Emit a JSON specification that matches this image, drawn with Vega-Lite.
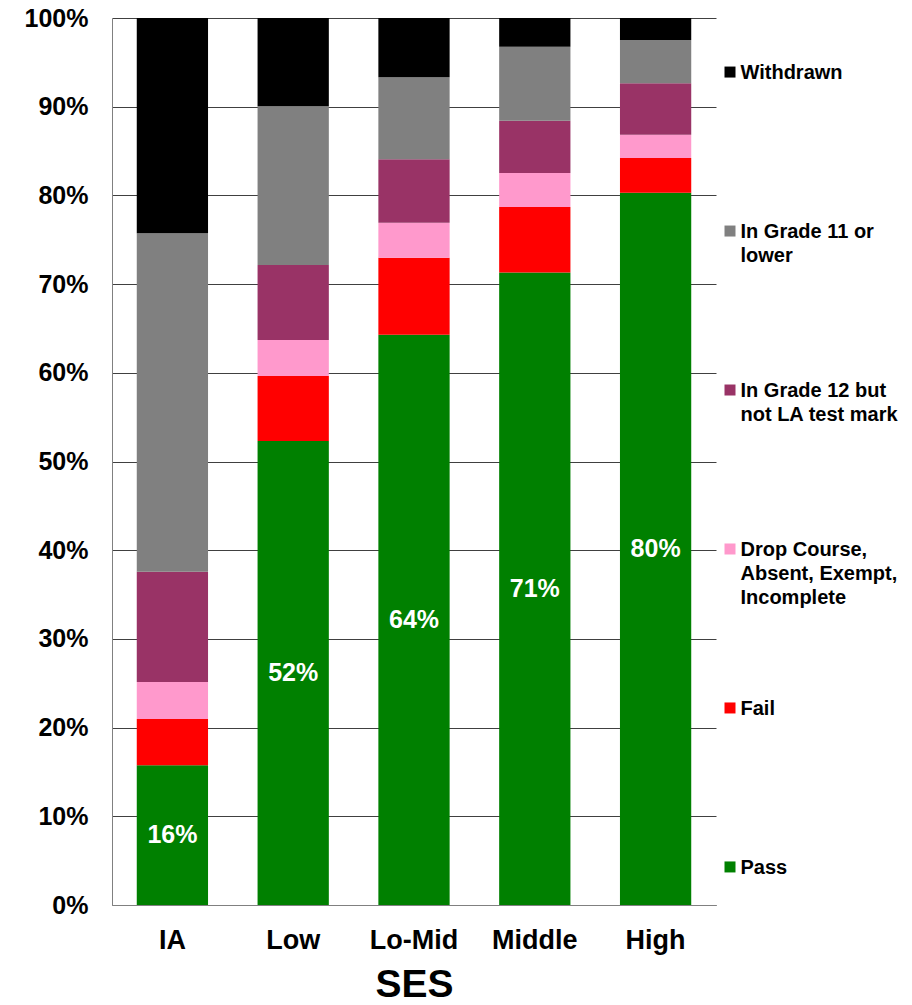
{
  "$schema": "https://vega.github.io/schema/vega-lite/v6.json",
  "padding": {"left": 24, "top": 6, "right": 0, "bottom": 0},
  "config": {
    "view": {"stroke": null},
    "font": "Liberation Sans",
    "concat": {"spacing": 4}
  },
  "datasets": {
    "outcomes": [
      {"ses": "IA", "series": "Pass", "k": 1, "value": 0.1575},
      {"ses": "IA", "series": "Fail", "k": 2, "value": 0.0522},
      {"ses": "IA", "series": "Drop Course, Absent, Exempt, Incomplete", "k": 3, "value": 0.0417},
      {"ses": "IA", "series": "In Grade 12 but not LA test mark", "k": 4, "value": 0.1244},
      {"ses": "IA", "series": "In Grade 11 or lower", "k": 5, "value": 0.3815},
      {"ses": "IA", "series": "Withdrawn", "k": 6, "value": 0.2427},
      {"ses": "Low", "series": "Pass", "k": 1, "value": 0.523},
      {"ses": "Low", "series": "Fail", "k": 2, "value": 0.0733},
      {"ses": "Low", "series": "Drop Course, Absent, Exempt, Incomplete", "k": 3, "value": 0.0406},
      {"ses": "Low", "series": "In Grade 12 but not LA test mark", "k": 4, "value": 0.0845},
      {"ses": "Low", "series": "In Grade 11 or lower", "k": 5, "value": 0.1792},
      {"ses": "Low", "series": "Withdrawn", "k": 6, "value": 0.0994},
      {"ses": "Lo-Mid", "series": "Pass", "k": 1, "value": 0.643},
      {"ses": "Lo-Mid", "series": "Fail", "k": 2, "value": 0.0868},
      {"ses": "Lo-Mid", "series": "Drop Course, Absent, Exempt, Incomplete", "k": 3, "value": 0.0394},
      {"ses": "Lo-Mid", "series": "In Grade 12 but not LA test mark", "k": 4, "value": 0.0715},
      {"ses": "Lo-Mid", "series": "In Grade 11 or lower", "k": 5, "value": 0.0924},
      {"ses": "Lo-Mid", "series": "Withdrawn", "k": 6, "value": 0.0669},
      {"ses": "Middle", "series": "Pass", "k": 1, "value": 0.713},
      {"ses": "Middle", "series": "Fail", "k": 2, "value": 0.0739},
      {"ses": "Middle", "series": "Drop Course, Absent, Exempt, Incomplete", "k": 3, "value": 0.0384},
      {"ses": "Middle", "series": "In Grade 12 but not LA test mark", "k": 4, "value": 0.0589},
      {"ses": "Middle", "series": "In Grade 11 or lower", "k": 5, "value": 0.0834},
      {"ses": "Middle", "series": "Withdrawn", "k": 6, "value": 0.0324},
      {"ses": "High", "series": "Pass", "k": 1, "value": 0.803},
      {"ses": "High", "series": "Fail", "k": 2, "value": 0.0392},
      {"ses": "High", "series": "Drop Course, Absent, Exempt, Incomplete", "k": 3, "value": 0.0262},
      {"ses": "High", "series": "In Grade 12 but not LA test mark", "k": 4, "value": 0.058},
      {"ses": "High", "series": "In Grade 11 or lower", "k": 5, "value": 0.0488},
      {"ses": "High", "series": "Withdrawn", "k": 6, "value": 0.0248}
    ],
    "legendItems": [
      {"series": "Withdrawn", "label": "Withdrawn"},
      {"series": "In Grade 11 or lower", "label": "In Grade 11 or\nlower"},
      {"series": "In Grade 12 but not LA test mark", "label": "In Grade 12 but\nnot LA test mark"},
      {"series": "Drop Course, Absent, Exempt, Incomplete", "label": "Drop Course,\nAbsent, Exempt,\nIncomplete"},
      {"series": "Fail", "label": "Fail"},
      {"series": "Pass", "label": "Pass"}
    ]
  },
  "hconcat": [
    {
      "width": 604,
      "height": 887,
      "data": {"name": "outcomes"},
      "layer": [
        {
          "mark": {"type": "bar"},
          "encoding": {
            "x": {
              "field": "ses", "type": "nominal",
              "sort": ["IA", "Low", "Lo-Mid", "Middle", "High"],
              "scale": {"paddingInner": 0.41, "paddingOuter": 0.205},
              "axis": {
                "title": "SES", "labelAngle": 0, "labelFontSize": 27, "labelFontWeight": "bold",
                "labelColor": "#000000", "ticks": false, "labelPadding": 22,
                "titleFontSize": 39, "titleFontWeight": "bold", "titlePadding": 12,
                "titleColor": "#000000", "domainColor": "#808080"
              }
            },
            "y": {
              "field": "value", "type": "quantitative", "stack": "zero",
              "scale": {"domain": [0, 1]},
              "axis": {
                "title": null, "format": ".0%",
                "values": [0, 0.1, 0.2, 0.3, 0.4, 0.5, 0.6, 0.7, 0.8, 0.9, 1],
                "labelFontSize": 25, "labelFontWeight": "bold", "labelColor": "#000000",
                "ticks": false, "labelPadding": 24, "domainColor": "#808080",
                "grid": true, "gridColor": "#404040", "gridOpacity": 1
              }
            },
            "order": {"field": "k", "type": "quantitative", "sort": "ascending"},
            "color": {
              "field": "series", "type": "nominal",
              "scale": {
                "domain": ["Pass", "Fail", "Drop Course, Absent, Exempt, Incomplete", "In Grade 12 but not LA test mark", "In Grade 11 or lower", "Withdrawn"],
                "range": ["#008000", "#FF0000", "#FF99CC", "#993366", "#808080", "#000000"]
              },
              "legend": null
            }
          }
        },
        {
          "transform": [{"filter": "datum.series === 'Pass'"}],
          "mark": {"type": "text", "color": "#FFFFFF", "fontSize": 25, "fontWeight": "bold", "baseline": "middle"},
          "encoding": {
            "x": {"field": "ses", "type": "nominal", "sort": ["IA", "Low", "Lo-Mid", "Middle", "High"]},
            "y": {"field": "value", "type": "quantitative", "scale": {"domain": [0, 2]}, "axis": null},
            "text": {"field": "value", "type": "quantitative", "format": ".0%"}
          }
        }
      ],
      "resolve": {"scale": {"y": "independent"}}
    },
    {
      "width": 20,
      "height": 903,
      "data": {"name": "legendItems"},
      "layer": [
        {
          "mark": {"type": "square", "size": 121, "filled": true, "opacity": 1},
          "encoding": {
            "y": {
              "field": "series", "type": "nominal",
              "sort": ["Withdrawn", "In Grade 11 or lower", "In Grade 12 but not LA test mark", "Drop Course, Absent, Exempt, Incomplete", "Fail", "Pass"],
              "scale": {"type": "point", "padding": 0.34},
              "axis": null
            },
            "color": {
              "field": "series", "type": "nominal",
              "scale": {
                "domain": ["Pass", "Fail", "Drop Course, Absent, Exempt, Incomplete", "In Grade 12 but not LA test mark", "In Grade 11 or lower", "Withdrawn"],
                "range": ["#008000", "#FF0000", "#FF99CC", "#993366", "#808080", "#000000"]
              },
              "legend": null
            }
          }
        },
        {
          "mark": {"type": "text", "align": "left", "baseline": "alphabetic", "dx": 10.5, "dy": 7, "fontSize": 20, "fontWeight": "bold", "lineBreak": "\n", "lineHeight": 24, "color": "#000000"},
          "encoding": {
            "y": {
              "field": "series", "type": "nominal",
              "sort": ["Withdrawn", "In Grade 11 or lower", "In Grade 12 but not LA test mark", "Drop Course, Absent, Exempt, Incomplete", "Fail", "Pass"],
              "scale": {"type": "point", "padding": 0.34},
              "axis": null
            },
            "text": {"field": "label", "type": "nominal"}
          }
        }
      ]
    }
  ]
}
